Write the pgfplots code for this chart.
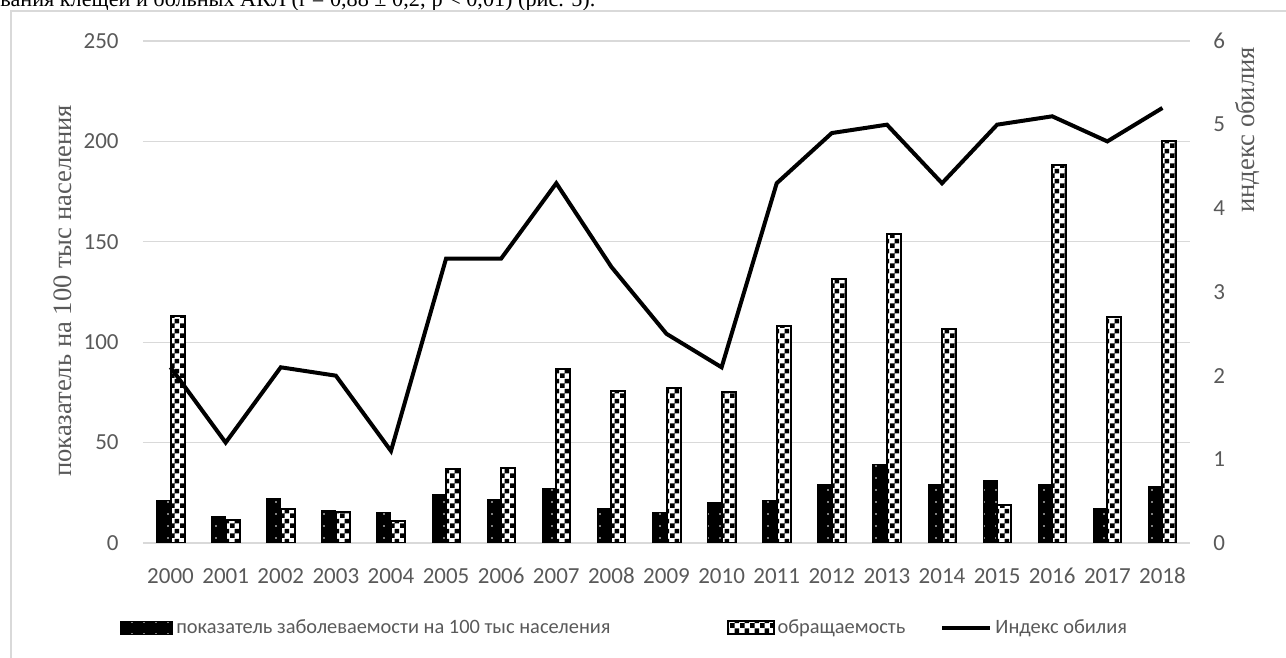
\documentclass[border=0pt]{standalone}
\usepackage{fontspec}
\setmainfont{Liberation Serif}
\newfontfamily\calibri{Carlito}
\usepackage{pgfplots}
\pgfplotsset{compat=1.18}
\usetikzlibrary{patterns.meta}

\definecolor{txtgray}{HTML}{595959}
\definecolor{gridgray}{HTML}{D9D9D9}
\definecolor{framegray}{HTML}{D9D9D9}

% checkerboard fill of the second series
\pgfdeclarepattern{
  name=checkers, type=uncolored,
  bottom left={\pgfpoint{0pt}{0pt}},
  top right={\pgfpoint{5pt}{5pt}},
  tile size={\pgfpoint{5pt}{5pt}},
  code={
    \pgfpathrectangle{\pgfpoint{0pt}{0pt}}{\pgfpoint{2.5pt}{2.5pt}}
    \pgfpathrectangle{\pgfpoint{2.5pt}{2.5pt}}{\pgfpoint{2.5pt}{2.5pt}}
    \pgfusepath{fill}
  }
}
% sparse dots on the solid first series
\pgfdeclarepattern{
  name=sparsedots, type=uncolored,
  bottom left={\pgfpoint{-3pt}{-3pt}},
  top right={\pgfpoint{3pt}{3pt}},
  tile size={\pgfpoint{6pt}{6pt}},
  code={
    \pgfpathcircle{\pgfpointorigin}{0.45pt}
    \pgfusepath{fill}
  }
}

\pgfplotstableread{
year  rate  appeal  index
2000  21    113    2.1
2001  13    11.5   1.2
2002  22    17     2.1
2003  16    15.5   2.0
2004  15    11     1.1
2005  24    37     3.4
2006  21.5  37.5   3.4
2007  27    86.5   4.3
2008  17    75.5   3.3
2009  15    77     2.5
2010  20    75     2.1
2011  21    108    4.3
2012  29    131.5  4.9
2013  39    154    5.0
2014  29    106.5  4.3
2015  31    19     5.0
2016  29    188    5.1
2017  17    112.5  4.8
2018  28    200    5.2
}\datatable

\tikzset{
  rateBar/.style={draw=black, line width=0.5pt, preaction={fill=black},
    pattern=sparsedots, pattern color=white},
  appealBar/.style={draw=black, line width=1pt, preaction={fill=white},
    pattern=checkers, pattern color=black},
  ytitle/.style={font=\fontsize{13.3}{16}\selectfont, text=txtgray,
    rotate=90, anchor=center},
}
\pgfplotsset{
  ratelegend/.style={legend image code/.code={
      \draw[##1] (0pt,-3.2pt) rectangle (26pt,3.2pt);}},
  appeallegend/.style={legend image code/.code={
      \draw[##1] (0pt,-3.2pt) rectangle (23pt,3.2pt);}},
  linelegend/.style={legend image code/.code={
      \draw[##1] (0pt,0pt) -- (24pt,0pt);}},
  common/.style={
    at={(71.5pt,57.5pt)}, anchor=south west,
    scale only axis, width=523.5pt, height=251pt,
    xmin=1999.5, xmax=2018.5,
    axis line style={draw=none},
    major tick length=0pt,
    /pgf/number format/assume math mode=true,
    ticklabel style={font=\calibri\fontsize{11.5}{13}\selectfont, text=txtgray},
  },
}

\begin{document}
\begin{tikzpicture}
\useasboundingbox (0,0) rectangle (643pt,329pt);

% last line of the paragraph above the figure
\begin{scope}
  \clip (0,0) rectangle (643pt,329pt);
  \node[anchor=base west, inner sep=0pt, font=\fontsize{11.1}{13}\selectfont]
    at (0pt,325.5pt) {вания клещей и больных АКЛ (r = 0,88 ± 0,2; p < 0,01) (рис. 5).};
\end{scope}

% chart frame
\draw[framegray, line width=1pt] (5.5pt,0pt) -- (5.5pt,323.5pt) -- (643pt,323.5pt);

\begin{axis}[
  common,
  ymin=0, ymax=250, ytick={0,50,...,250},
  ymajorgrids, grid style={gridgray, line width=0.6pt},
  xtick=data,
  xticklabel style={/pgf/number format/1000 sep={}, anchor=center, yshift=-16.5pt},
  yticklabel style={anchor=east, inner sep=0pt, xshift=-12pt},
  ybar=0pt, bar width=7pt,
  ylabel={показатель на 100 тыс населения},
  every axis y label/.style={at={(axis description cs:-0.0764,0.502)}, ytitle},
]
\addplot[rateBar] table[x=year, y=rate] {\datatable};
\addplot[appealBar] table[x=year, y=appeal] {\datatable};
\end{axis}

\begin{axis}[
  common,
  ymin=0, ymax=6, ytick={0,1,...,6},
  axis y line*=right, axis x line=none,
  yticklabel style={anchor=west, inner sep=0pt, xshift=11.5pt},
  ylabel={индекс обилия},
  every axis y label/.style={at={(axis description cs:1.0554,0.823)}, ytitle},
  legend columns=3,
  legend style={at={(axis description cs:-0.022,-0.169)}, anchor=west,
    draw=none, fill=none, inner sep=0pt,
    font=\calibri\fontsize{10.2}{13}\selectfont, text=txtgray,
    nodes={inner xsep=1.5pt},
    /tikz/every even column/.append style={column sep=16pt}},
]
\addlegendimage{rateBar, ratelegend}
\addlegendentry{показатель заболеваемости на 100 тыс населения\rule{40.5pt}{0pt}}
\addlegendimage{appealBar, appeallegend}
\addlegendentry{обращаемость}
\addplot[black, line width=2pt, miter limit=4, linelegend]
  table[x=year, y=index] {\datatable};
\addlegendentry{Индекс обилия}
\end{axis}
\end{tikzpicture}
\end{document}
